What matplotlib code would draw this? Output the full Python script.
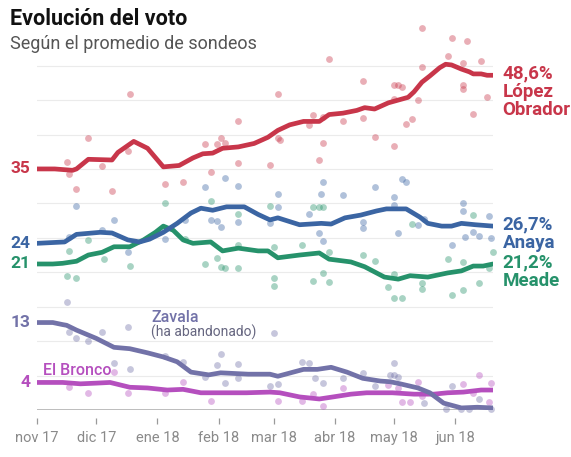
import numpy as np
import pandas as pd
import matplotlib
matplotlib.use("Agg")
from matplotlib import pyplot as plt
import matplotlib.dates as mdates

plt.rcParams["font.family"] = ["Roboto", "DejaVu Sans"]

start = pd.Timestamp("2017-11-01")

# promedio de sondeos: dias desde 1 nov 2017, valor en %
amlo_d = [0, 9, 18, 20, 26, 38, 41, 49, 56, 64, 72, 79, 84, 89, 94, 102, 110, 117, 122, 128, 135,
          143, 148, 155, 162, 166, 171, 178, 183, 188, 191, 195, 199, 204, 207, 210, 215, 219, 221,
          225, 228, 231]
amlo_v = [35.0, 35.0, 34.8, 35.0, 36.4, 36.3, 37.4, 39.0, 38.0, 35.3, 35.5, 36.6, 37.2, 37.3, 38.0,
          38.2, 38.7, 39.6, 40.6, 41.4, 41.9, 41.9, 42.9, 43.1, 43.5, 43.9, 43.7, 44.6, 45.0, 45.4,
          46.2, 47.6, 48.5, 49.7, 50.2, 50.1, 49.5, 49.1, 48.8, 48.8, 48.6, 48.6]

anaya_d = [0, 14, 20, 32, 38, 46, 52, 57, 64, 71, 78, 83, 89, 96, 105, 112, 118, 122, 133, 144, 149,
           156, 164, 172, 177, 187, 194, 198, 205, 210, 215, 222, 231]
anaya_v = [24.2, 24.4, 25.5, 25.8, 25.7, 24.7, 24.4, 24.8, 25.8, 27.1, 28.6, 29.3, 29.0, 29.5, 29.5,
           28.4, 27.6, 27.9, 26.9, 27.1, 27.0, 27.9, 28.3, 28.9, 29.2, 29.2, 28.0, 27.1, 26.7, 26.7,
           27.1, 26.9, 26.7]

meade_d = [0, 8, 13, 20, 26, 33, 39, 47, 54, 60, 64, 69, 74, 79, 88, 94, 102, 112, 117, 122, 133,
           143, 148, 159, 166, 176, 183, 189, 198, 208, 215, 221, 226, 231]
meade_v = [21.2, 21.2, 21.3, 21.6, 22.5, 22.9, 23.7, 23.7, 24.7, 25.8, 26.7, 26.1, 24.7, 24.2, 24.4,
           23.1, 23.5, 23.1, 23.1, 22.1, 22.5, 22.8, 21.9, 21.5, 20.8, 19.3, 19.0, 19.5, 19.3, 19.9,
           20.2, 20.9, 20.9, 21.2]

zavala_d = [0, 8, 13, 15, 20, 30, 39, 47, 56, 64, 71, 78, 87, 93, 107, 118, 122, 135, 142, 149, 157,
            165, 174, 179, 184, 193, 199, 206, 215, 223, 231]
zavala_v = [12.7, 12.7, 12.4, 12.3, 11.6, 10.4, 9.1, 8.9, 8.3, 7.7, 7.0, 5.5, 5.1, 5.4, 5.2, 5.2,
            4.9, 5.9, 5.9, 6.2, 5.5, 4.6, 4.2, 4.1, 3.8, 3.2, 2.5, 1.0, 0.3, 0.4, 0.3]

bronco_d = [0, 13, 22, 30, 37, 47, 56, 66, 74, 83, 91, 106, 118, 123, 133, 143, 150, 159, 167, 180,
            191, 201, 208, 216, 225, 231]
bronco_v = [4.0, 4.0, 3.8, 3.9, 4.0, 3.3, 3.2, 2.9, 3.0, 2.5, 2.5, 2.5, 2.6, 2.5, 1.9, 1.6, 1.9, 2.3,
            2.5, 2.5, 2.3, 2.3, 2.5, 2.6, 2.9, 2.9]

# sondeos individuales
amlo_pd = [15, 16, 20, 26, 33, 38, 46, 47, 65, 74, 85, 88, 91, 93, 95, 102, 102, 118, 122, 122, 123,
           138, 140, 143, 145, 145, 148, 155, 165, 165, 171, 181, 183, 185, 181, 181, 187, 190, 193,
           195, 195, 208, 210, 218, 216, 225, 216, 216, 221, 228]
amlo_pv = [36.0, 34.3, 32.1, 39.5, 35.4, 31.8, 37.6, 45.9, 32.8, 33.1, 38.6, 34.5, 38.6, 39.5, 38.8,
           41.9, 35.8, 35.6, 39.5, 45.9, 39.2, 41.4, 42.8, 36.3, 42.5, 38.8, 50.9, 41.9, 47.8, 42.4,
           39.6, 47.2, 47.2, 46.9, 45.1, 38.3, 41.5, 42.2, 45.0, 55.4, 49.8, 51.4, 54.0, 53.6, 50.4,
           50.7, 47.2, 46.6, 43.0, 45.4]

anaya_pd = [20, 16, 33, 39, 46, 65, 75, 85, 88, 91, 93, 95, 102, 102, 118, 122, 122, 138, 143, 144,
            145, 145, 155, 165, 165, 171, 181, 181, 183, 185, 187, 193, 196, 210, 216, 216, 217, 221,
            224, 229, 230]
anaya_pv = [29.6, 25.1, 26.1, 27.6, 22.9, 24.8, 27.6, 32.4, 27.6, 27.4, 26.6, 33.7, 32.5, 27.3, 27.1,
            31.3, 29.5, 28.4, 25.7, 31.3, 33.1, 24.5, 31.2, 27.3, 26.4, 32.4, 30.9, 29.8, 25.7, 33.5,
            33.1, 26.9, 27.7, 23.9, 30.0, 28.9, 25.1, 25.8, 25.3, 28.2, 25.0]

meade_pd = [15, 16, 20, 26, 34, 47, 65, 75, 85, 88, 91, 93, 95, 102, 102, 102, 118, 120, 120, 120,
            134, 140, 143, 145, 140, 145, 148, 148, 165, 171, 178, 181, 185, 181, 190, 195, 195, 208,
            210, 216, 216, 221, 224, 229, 231]
meade_pv = [19.4, 23.1, 19.2, 24.7, 21.9, 20.9, 30.0, 24.8, 21.2, 30.3, 22.1, 20.8, 20.6, 28.4, 23.9,
            20.6, 29.6, 23.7, 19.2, 18.0, 23.9, 29.5, 29.5, 29.5, 18.7, 19.9, 18.6, 22.9, 22.5, 21.6,
            17.9, 16.3, 16.3, 19.7, 27.0, 18.4, 17.6, 21.9, 16.7, 21.5, 17.4, 28.3, 18.4, 20.6, 22.9]

zavala_pd = [15, 16, 20, 26, 33, 46, 39, 47, 65, 74, 85, 91, 93, 95, 102, 102, 118, 120, 122, 134,
             138, 141, 145, 155, 165, 171, 179, 181, 183, 181, 196, 210, 207, 215, 219, 224, 230]
zavala_pv = [15.7, 11.3, 10.4, 10.0, 11.3, 12.0, 6.8, 6.0, 7.8, 7.0, 4.8, 6.5, 8.1, 3.9, 6.7, 4.6,
             3.5, 11.2, 3.8, 7.0, 6.8, 4.6, 3.9, 4.6, 5.4, 3.5, 5.1, 5.1, 4.8, 6.8, 1.0, 3.5, 0.2,
             0.2, 0.2, 1.6, 0.2]

bronco_pd = [16, 26, 39, 46, 65, 74, 88, 122, 134, 140, 145, 155, 178, 183, 185, 189, 193, 195, 216,
             221, 224, 229, 230]
bronco_pv = [3.3, 2.5, 5.5, 2.5, 2.5, 4.1, 1.3, 1.3, 1.3, 2.3, 0.6, 3.2, 3.6, 3.2, 1.2, 1.2, 4.1,
             2.0, 3.8, 2.5, 5.1, 1.2, 3.9]

names = ["López\nObrador", "Anaya", "Meade", "Zavala", "El Bronco"]
colors = ["#c8364a", "#3b65a3", "#26926b", "#7272a8", "#b54fbe"]
start_labels = ["35", "24", "21", "13", "4"]
end_labels = ["48,6%", "26,7%", "21,2%", None, None]

months = ["nov 17", "dic 17", "ene 18", "feb 18", "mar 18", "abr 18", "may 18", "jun 18"]
month_starts = pd.date_range("2017-11-01", periods=8, freq="MS")


def to_dates(days):
    return start + pd.to_timedelta(days, unit="D")


series = [(amlo_d, amlo_v, amlo_pd, amlo_pv),
          (anaya_d, anaya_v, anaya_pd, anaya_pv),
          (meade_d, meade_v, meade_pd, meade_pv),
          (zavala_d, zavala_v, zavala_pd, zavala_pv),
          (bronco_d, bronco_v, bronco_pd, bronco_pv)]

fig = plt.figure(figsize=(5.71, 4.57), dpi=100)
ax = fig.add_axes([37 / 571, 47 / 457, 456 / 571, 385 / 457])

ax.set_xlim(start, start + pd.Timedelta(days=231))
ax.set_ylim(0, 55.9)

for y in range(5, 55, 5):
    ax.axhline(y, color="#ebebeb", lw=0.8, zorder=0)
ax.axhline(0, color="#bdbdbd", lw=1.4, zorder=1)

# puntos de sondeos primero, lineas encima
for (d, v, pd_, pv), c in zip(series, colors):
    ax.scatter(to_dates(pd_), pv, s=24, color=c, alpha=0.4, lw=0, zorder=2, clip_on=False)

for (d, v, pd_, pv), c in zip(series[::-1], colors[::-1]):
    ax.plot(to_dates(d), v, color=c, lw=3.4, solid_capstyle="round", solid_joinstyle="round",
            zorder=3)

for (d, v, pd_, pv), c, lab in zip(series, colors, start_labels):
    ax.annotate(lab, xy=(to_dates(d)[0], v[0]), xytext=(-5, 0), textcoords="offset points",
                ha="right", va="center", fontsize=12.5, fontweight="bold", color=c)

for (d, v, pd_, pv), c, pct, name in zip(series[:3], colors[:3], end_labels[:3], names[:3]):
    ax.annotate(pct + "\n" + name, xy=(to_dates(d)[-1], v[-1]), xytext=(7, 7.5),
                textcoords="offset points", ha="left", va="top", fontsize=13.5,
                fontweight="bold", color=c, linespacing=1.0, annotation_clip=False)

ax.text(to_dates([58])[0], 13.4, "Zavala", fontsize=11.5, color=colors[3], va="center",
        fontweight="medium")
ax.text(to_dates([58])[0], 11.3, "(ha abandonado)", fontsize=10, color="#666680", va="center")
ax.text(to_dates([3])[0], 5.7, "El Bronco", fontsize=11.5, color=colors[4], va="center",
        fontweight="medium")

for s in ["top", "right", "left"]:
    ax.spines[s].set_visible(False)
ax.spines["bottom"].set_position(("outward", 6))
ax.spines["bottom"].set_visible(False)
ax.set_yticks([])
ax.set_xticks(month_starts)
ax.set_xticklabels(months)
ax.tick_params(axis="x", length=4, width=0.9, color="#9a9a9a", pad=5, labelsize=10.5,
               labelcolor="#8a8a8a")

fig.text(10 / 571, 1 - 19 / 457, "Evolución del voto", fontsize=15.5, fontweight="bold",
         color="#111111", va="center")
fig.text(10 / 571, 1 - 44 / 457, "Según el promedio de sondeos", fontsize=13, color="#555555",
         va="center")

fig.savefig("out.png", dpi=100)
